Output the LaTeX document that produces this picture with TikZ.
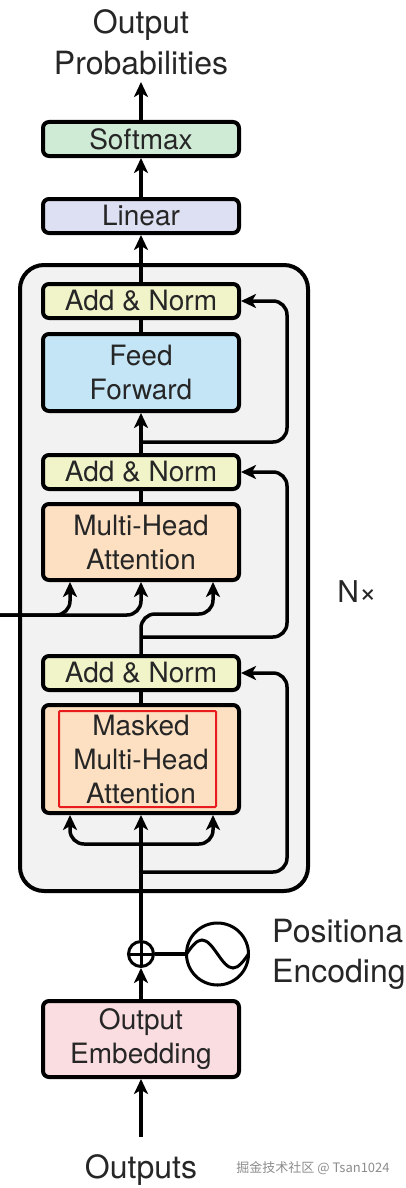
\documentclass[tikz,border=0pt]{standalone}
\usepackage{fontspec}
\setmainfont{TeX Gyre Heros}
\newfontfamily\cjkfont{Noto Sans CJK SC}
\usepackage{xcolor}
\usetikzlibrary{arrows.meta, positioning}

\definecolor{smxgreen}{RGB}{208,235,213}
\definecolor{linpurple}{RGB}{221,223,242}
\definecolor{anyellow}{RGB}{241,244,201}
\definecolor{ffblue}{RGB}{196,229,246}
\definecolor{attnorange}{RGB}{252,224,193}
\definecolor{embpink}{RGB}{249,221,225}
\definecolor{layergray}{RGB}{242,242,242}
\definecolor{markred}{RGB}{232,28,28}

\begin{document}
\begin{tikzpicture}[
    x=1pt, y=1pt,
    block/.style={rectangle, rounded corners=6pt, draw=black, line width=4pt,
                  minimum width=196pt, minimum height=34pt, inner sep=2pt,
                  align=center, font=\fontsize{28}{34}\selectfont, text=black!85},
    addnorm/.style={block, fill=anyellow},
    attn/.style={block, fill=attnorange, minimum height=76pt},
    layer/.style={rectangle, rounded corners=24pt, draw=black, line width=4pt,
                  fill=layergray, minimum width=288pt, minimum height=626pt},
    bigtext/.style={font=\fontsize{32}{41}\selectfont, text=black!85,
                    align=center, inner sep=0pt},
    addsym/.style={circle, draw=black, fill=white, line width=3pt,
                   minimum size=25pt, inner sep=0pt,
                   path picture={\draw[line width=3pt]
                     (path picture bounding box.north) -- (path picture bounding box.south)
                     (path picture bounding box.west) -- (path picture bounding box.east);}},
    sinewave/.style={circle, draw=black, fill=white, line width=3pt,
                     minimum size=62pt, inner sep=0pt,
                     path picture={\draw[line width=3pt]
                       (path picture bounding box.west) sin ++(15.5pt,14pt)
                       cos ++(15.5pt,-14pt) sin ++(15.5pt,-14pt) cos ++(15.5pt,14pt);}},
    redmark/.style={rectangle, draw=markred, line width=2pt, rounded corners=1pt,
                    minimum width=157pt, minimum height=96pt, inner sep=0pt},
    arr/.style={-{Stealth[length=15pt, width=14pt, inset=4pt]}, line width=3.5pt},
    link/.style={line width=3.5pt},
]
\useasboundingbox (0,0) rectangle (405,-1188);

% Decoder layer background
\node[layer] (blk) at (164,-578) {};
\node[font=\fontsize{30}{36}\selectfont, text=black!85, inner sep=0pt]
    (nx) at (357,-592) {N×};

% Main column, top to bottom
\node[block, fill=smxgreen] (smx) at (141,-139) {Softmax};
\node[bigtext, outer ysep=7pt, above=38pt of smx] (probs) {Output\\Probabilities};
\node[block, fill=linpurple, below=39pt of smx] (lin) {Linear};
\node[addnorm, below=47pt of lin] (an_ff) {Add \& Norm};
\node[block, fill=ffblue, minimum height=77pt, below=12pt of an_ff] (ff) {Feed\\Forward};
\node[addnorm, below=40pt of ff] (an_mha) {Add \& Norm};
\node[attn, below=11pt of an_mha] (mha) {Multi-Head\\Attention};
\node[addnorm, below=72pt of mha] (an_mmha) {Add \& Norm};
\node[attn, minimum height=108pt, below=11pt of an_mmha]
    (mmha) {Masked\\Multi-Head\\Attention};
\node[redmark] (mark) at ([xshift=-3.5pt]mmha.center) {};

% Positional encoding and embedding
\node[addsym, below=125pt of mmha] (pe_add) {};
\node[sinewave, right=30pt of pe_add] (pe_sin) {};
\node[bigtext, align=left, font=\fontsize{32}{40}\selectfont, right=22pt of pe_sin]
    (pe_lbl) {Positiona\\Encoding};
\node[block, fill=embpink, minimum height=76pt, below=31pt of pe_add]
    (emb) {Output\\Embedding};
\node[bigtext, outer ysep=18pt, below=58pt of emb] (outs) {Outputs};
\node[font=\cjkfont\fontsize{13}{15}\selectfont, text=black!45, inner sep=0pt]
    (wm) at (313,-1168) {掘金技术社区 @ Tsan1024};

% Stem
\draw[arr] (outs) -- (emb);
\draw[arr] (emb) -- (pe_add);
\draw[link] (pe_add) -- (pe_sin);
\draw[arr] (pe_add) -- (mmha);
\draw[link] (mmha) -- (an_mmha);
\draw[link] (mha) -- (an_mha);
\draw[arr] (an_mha) -- (ff);
\draw[link] (ff) -- (an_ff);
\draw[arr] (an_ff) -- (lin);
\draw[arr] (lin) -- (smx);
\draw[arr] (smx) -- (probs);

% Masked attention inputs
\coordinate (mmha_fork) at ([yshift=-29pt]mmha.south);
\draw[arr, rounded corners=14pt] (mmha_fork) -| ([xshift=-71pt]mmha.south);
\draw[arr, rounded corners=14pt] (mmha_fork) -| ([xshift=72pt]mmha.south);

% Encoder-decoder attention inputs
\coordinate (enc_in) at (0,-615);
\draw[arr, rounded corners=14pt] (enc_in) -| ([xshift=-71pt]mha.south);
\draw[arr, rounded corners=14pt] (enc_in) -| (mha.south);
\draw[arr, rounded corners=14pt] (an_mmha.north)
    |- ([xshift=72pt, yshift=-32pt]mha.south) -- ([xshift=72pt]mha.south);

% Residual connections
\coordinate (mmha_split) at ([yshift=-57pt]mmha.south);
\coordinate (mha_split) at ([yshift=17pt]an_mmha.north);
\coordinate (ff_split) at ([yshift=11pt]an_mha.north);
\draw[arr, rounded corners=14pt] (mmha_split) -| ([xshift=46pt]an_mmha.east) -- (an_mmha.east);
\draw[arr, rounded corners=14pt] (mha_split) -| ([xshift=46pt]an_mha.east) -- (an_mha.east);
\draw[arr, rounded corners=14pt] (ff_split) -| ([xshift=46pt]an_ff.east) -- (an_ff.east);

\end{tikzpicture}
\end{document}
